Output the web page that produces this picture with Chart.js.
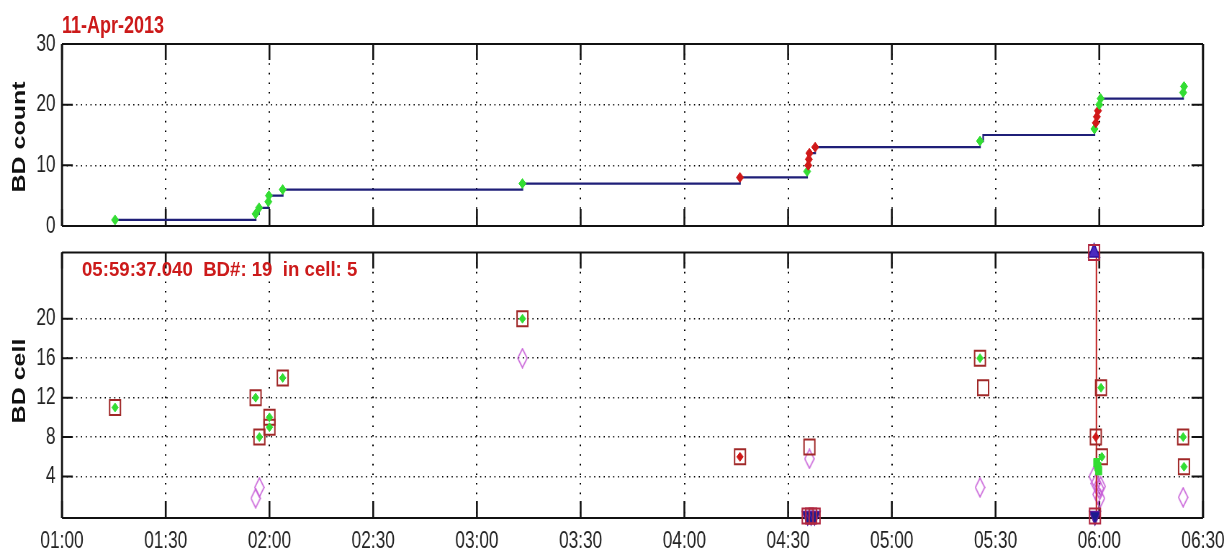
<!DOCTYPE html>
<html><head><meta charset="utf-8">
<script src="https://cdn.jsdelivr.net/npm/chart.js@4.4.1/dist/chart.umd.min.js"></script>
<style>
html,body{margin:0;padding:0;background:#fff;width:1224px;height:551px;overflow:hidden;position:relative;font-family:'Liberation Sans',Arial,sans-serif;}
canvas{position:absolute;left:0;}
.t{position:absolute;white-space:pre;font-weight:bold;line-height:1;}
#title{left:62px;top:13px;font-size:24px;color:#cc1a1a;transform-origin:0 0;transform:scaleX(0.75);}
#note{left:82px;top:260px;font-size:19.5px;color:#cc1a1a;transform-origin:0 0;transform:scaleX(0.955);}
.yl{position:absolute;font-weight:bold;font-size:25px;color:#111;white-space:pre;line-height:1;transform:translate(-50%,-50%) scaleX(0.72) rotate(-90deg);}
</style></head><body>
<canvas id="c1" width="1700" height="240" style="top:0px;width:1224px;height:240px;"></canvas>
<canvas id="c2" width="1700" height="311" style="top:240px;width:1224px;height:311px;"></canvas>
<div class="t" id="title">11-Apr-2013</div>
<div class="t" id="note">05:59:37.040  BD#: 19  in cell: 5</div>
<div class="yl" style="left:19px;top:137px;">BD count</div>
<div class="yl" style="left:19px;top:381px;">BD cell</div>
<script>
// ---------- axis ticks ----------
const xTickLabels = ['01:00','01:30','02:00','02:30','03:00','03:30','04:00','04:30','05:00','05:30','06:00','06:30'];
const countTicks = [0, 10, 20, 30];
const cellTicks = [4, 8, 12, 16, 20];

// ---------- top panel: cumulative BD count ----------
const countTimes = ['01:15:20','01:56:00','01:57:00','01:59:40','01:59:50','02:03:50','03:13:10','04:16:05',
  '04:35:30','04:35:50','04:36:00','04:36:10','04:37:50','05:25:30','05:26:25',
  '05:58:36','05:59:00','05:59:18','05:59:37','06:00:00','06:00:24','06:24:15','06:24:30'];
const countValues = [1,2,3,4,5,6,7,8,9,10,11,12,13,14,15,16,17,18,19,20,21,22,23];
const countMarker = ['g','g','g','g','g','g','g','r','g','r','r','r','r','g','','g','r','r','r','g','g','g','g'];

// ---------- bottom panel: BD cell ----------
const cellTimes = ['01:15:20','01:56:00','01:57:05','02:00:00','02:00:00','02:03:50','03:13:10','04:16:05',
  '04:36:10','05:25:30','05:26:25','05:59:00','06:00:30','06:00:45','06:24:15','06:24:30'];
const cellValues = [11,12,8,9,10,14,20,6,7,16,13,8,13,6,8,5];
const cellMarker = ['g','g','g','g','g','g','g','r','','g','','r','g','g','g','g'];

const altTimes = ['01:56:00','01:57:05','03:13:10','04:36:10','05:25:30','05:58:24','05:59:00','05:59:30','05:59:54','06:00:24','06:00:12','06:24:15'];
const altValues = [1.8,2.9,16,5.8,2.9,4.0,3.3,2.2,2.8,3.0,1.8,1.9];

const selTimes = ['05:59:15','05:59:37','05:59:50'];
const selValues = [5.4,5.0,4.6];

const lowTimes = ['04:35:40','04:36:40','04:37:40','05:58:45'];
const lowValues = [0,0,0,0];
const highTimes = ['05:58:30'];
const highValues = [26.7];

const markerTimes = ['05:59:10','05:59:10'];
const markerValues = [-0.2, 26.7];

// ---------- helpers ----------
const K = 1224/1700;
const toMin = s => { const p = s.split(':').map(Number); return p[0]*60 + p[1] + (p[2]||0)/60; };
const pts = (ts, vs) => ts.map((t,i)=>({x: toMin(t), y: vs[i]}));
const col = {g:'#33dd33', r:'#d01818'};
const xTickVals = xTickLabels.map(toMin);

function diamondImg(w,h,color){
  const c=document.createElement('canvas'); c.width=w; c.height=h;
  const g=c.getContext('2d'); g.strokeStyle=color; g.lineWidth=1.5;
  g.beginPath(); g.moveTo(w/2,1); g.lineTo(w-1,h/2); g.lineTo(w/2,h-1); g.lineTo(1,h/2); g.closePath(); g.stroke();
  return c;
}
const magDiamond = diamondImg(15,21,'#c860d8');

const frame = {
  id:'frame',
  beforeDatasetsDraw(chart){
    const {ctx, chartArea:a, scales:{x,y}} = chart;
    ctx.save(); ctx.strokeStyle='#111';
    ctx.lineWidth=2.6;
    x.ticks.forEach(t=>{const p=x.getPixelForValue(t.value);
      ctx.beginPath(); ctx.moveTo(p,a.bottom); ctx.lineTo(p,a.bottom-17); ctx.moveTo(p,a.top); ctx.lineTo(p,a.top+16); ctx.stroke();});
    ctx.lineWidth=2;
    y.ticks.forEach(t=>{const p=y.getPixelForValue(t.value);
      ctx.beginPath(); ctx.moveTo(a.left,p); ctx.lineTo(a.left+15,p); ctx.moveTo(a.right,p); ctx.lineTo(a.right-16,p); ctx.stroke();});
    ctx.lineWidth=2;
    ctx.beginPath(); ctx.moveTo(a.left,a.top); ctx.lineTo(a.right,a.top); ctx.moveTo(a.left,a.bottom); ctx.lineTo(a.right,a.bottom); ctx.stroke();
    ctx.lineWidth=2.8;
    ctx.beginPath(); ctx.moveTo(a.left,a.top); ctx.lineTo(a.left,a.bottom); ctx.moveTo(a.right,a.top); ctx.lineTo(a.right,a.bottom); ctx.stroke();
    ctx.restore();
  }
};

const tickFont = {family:"'Liberation Sans', Arial, sans-serif", size:24};
function xScale(showLabels, h){
  return {type:'linear', min:60, max:390,
    afterBuildTicks:s=>{s.ticks = xTickVals.map(v=>({value:v}));},
    afterFit:s=>{s.height=h; s.paddingLeft=0; s.paddingRight=0;},
    ticks:{display:showLabels, autoSkip:false, maxRotation:0, padding:9, color:'#222', font:tickFont,
      callback:(v,i)=>xTickLabels[i]},
    grid:{color:'#000', lineWidth:2, drawTicks:false},
    border:{display:false, dash:[1.6,8]}};
}
function yScale(min,max,ticks){
  return {type:'linear', min, max,
    afterBuildTicks:s=>{s.ticks = ticks.map(v=>({value:v}));},
    afterFit:s=>{s.width=62/K; s.paddingTop=0; s.paddingBottom=0;},
    ticks:{padding:9, color:'#222', font:tickFont, callback:v=>String(v)},
    grid:{color:'#000', lineWidth:1.5, drawTicks:false},
    border:{display:false, dash:[1.6,5]}};
}
const common = {responsive:false, animation:false, devicePixelRatio:1,
  plugins:{legend:{display:false}, tooltip:{enabled:false}}, events:[]};

// top chart
new Chart(document.getElementById('c1'), {
  type:'line',
  data:{datasets:[{
    data: pts(countTimes, countValues),
    stepped:'before', borderColor:'#1f1f78', borderWidth:2.2, fill:false, clip:false,
    pointStyle:'rectRot',
    pointRadius: countMarker.map(m=>m?5:0),
    pointBackgroundColor: countMarker.map(m=>col[m]||'transparent'),
    pointBorderColor: countMarker.map(m=>col[m]||'transparent'),
    pointBorderWidth:1
  }]},
  options:{...common,
    layout:{padding:{left:0, right:1700-1203/K, top:44, bottom:0}},
    scales:{x:xScale(false, 14), y:yScale(0,30,countTicks)}},
  plugins:[frame]
});

// bottom chart
new Chart(document.getElementById('c2'), {
  type:'scatter',
  data:{datasets:[
    {data: pts(cellTimes, cellValues), pointStyle:'rectRot',
     pointRadius: cellMarker.map(m=>m?4.5:0),
     pointBackgroundColor: cellMarker.map(m=>col[m]||'transparent'),
     pointBorderColor: cellMarker.map(m=>col[m]||'transparent'), pointBorderWidth:1, clip:false, order:0},
    {data: pts(selTimes, selValues), pointStyle:'rect', pointRadius:6,
     pointBackgroundColor:'#33dd33', pointBorderColor:'#33dd33', clip:false, order:1},
    {data: pts(cellTimes, cellValues), pointStyle:'rect', pointRadius:10.6,
     pointBackgroundColor:'transparent', pointBorderColor:'#a02828', pointBorderWidth:2, clip:false, order:2},
    {data: pts(lowTimes, lowValues).concat(pts(highTimes, highValues)), pointStyle:'rect', pointRadius:10.6,
     pointBackgroundColor:'transparent', pointBorderColor:'#b02840', pointBorderWidth:2, clip:false, order:3},
    {data: pts(lowTimes, lowValues), pointStyle:'triangle', rotation:180, pointRadius:9,
     pointBackgroundColor:'#1c1c90', pointBorderColor:'#5a1aa0', pointBorderWidth:1.5, clip:false, order:4},
    {data: pts(highTimes, highValues), pointStyle:'triangle', pointRadius:9,
     pointBackgroundColor:'#4a2ac0', pointBorderColor:'#3010a0', pointBorderWidth:1.5, clip:false, order:5},
    {type:'line', data: pts(markerTimes, markerValues), borderColor:'#c02020', borderWidth:2,
     pointRadius:0, fill:false, clip:false, order:6},
    {data: pts(altTimes, altValues), pointStyle:magDiamond, pointRadius:10, clip:false, order:7}
  ]},
  options:{...common,
    layout:{padding:{left:0, right:1700-1203/K, top:4, bottom:0}},
    scales:{x:xScale(true, 33), y:yScale(-0.2,26.7,cellTicks)}},
  plugins:[frame]
});
</script>
</body></html>
